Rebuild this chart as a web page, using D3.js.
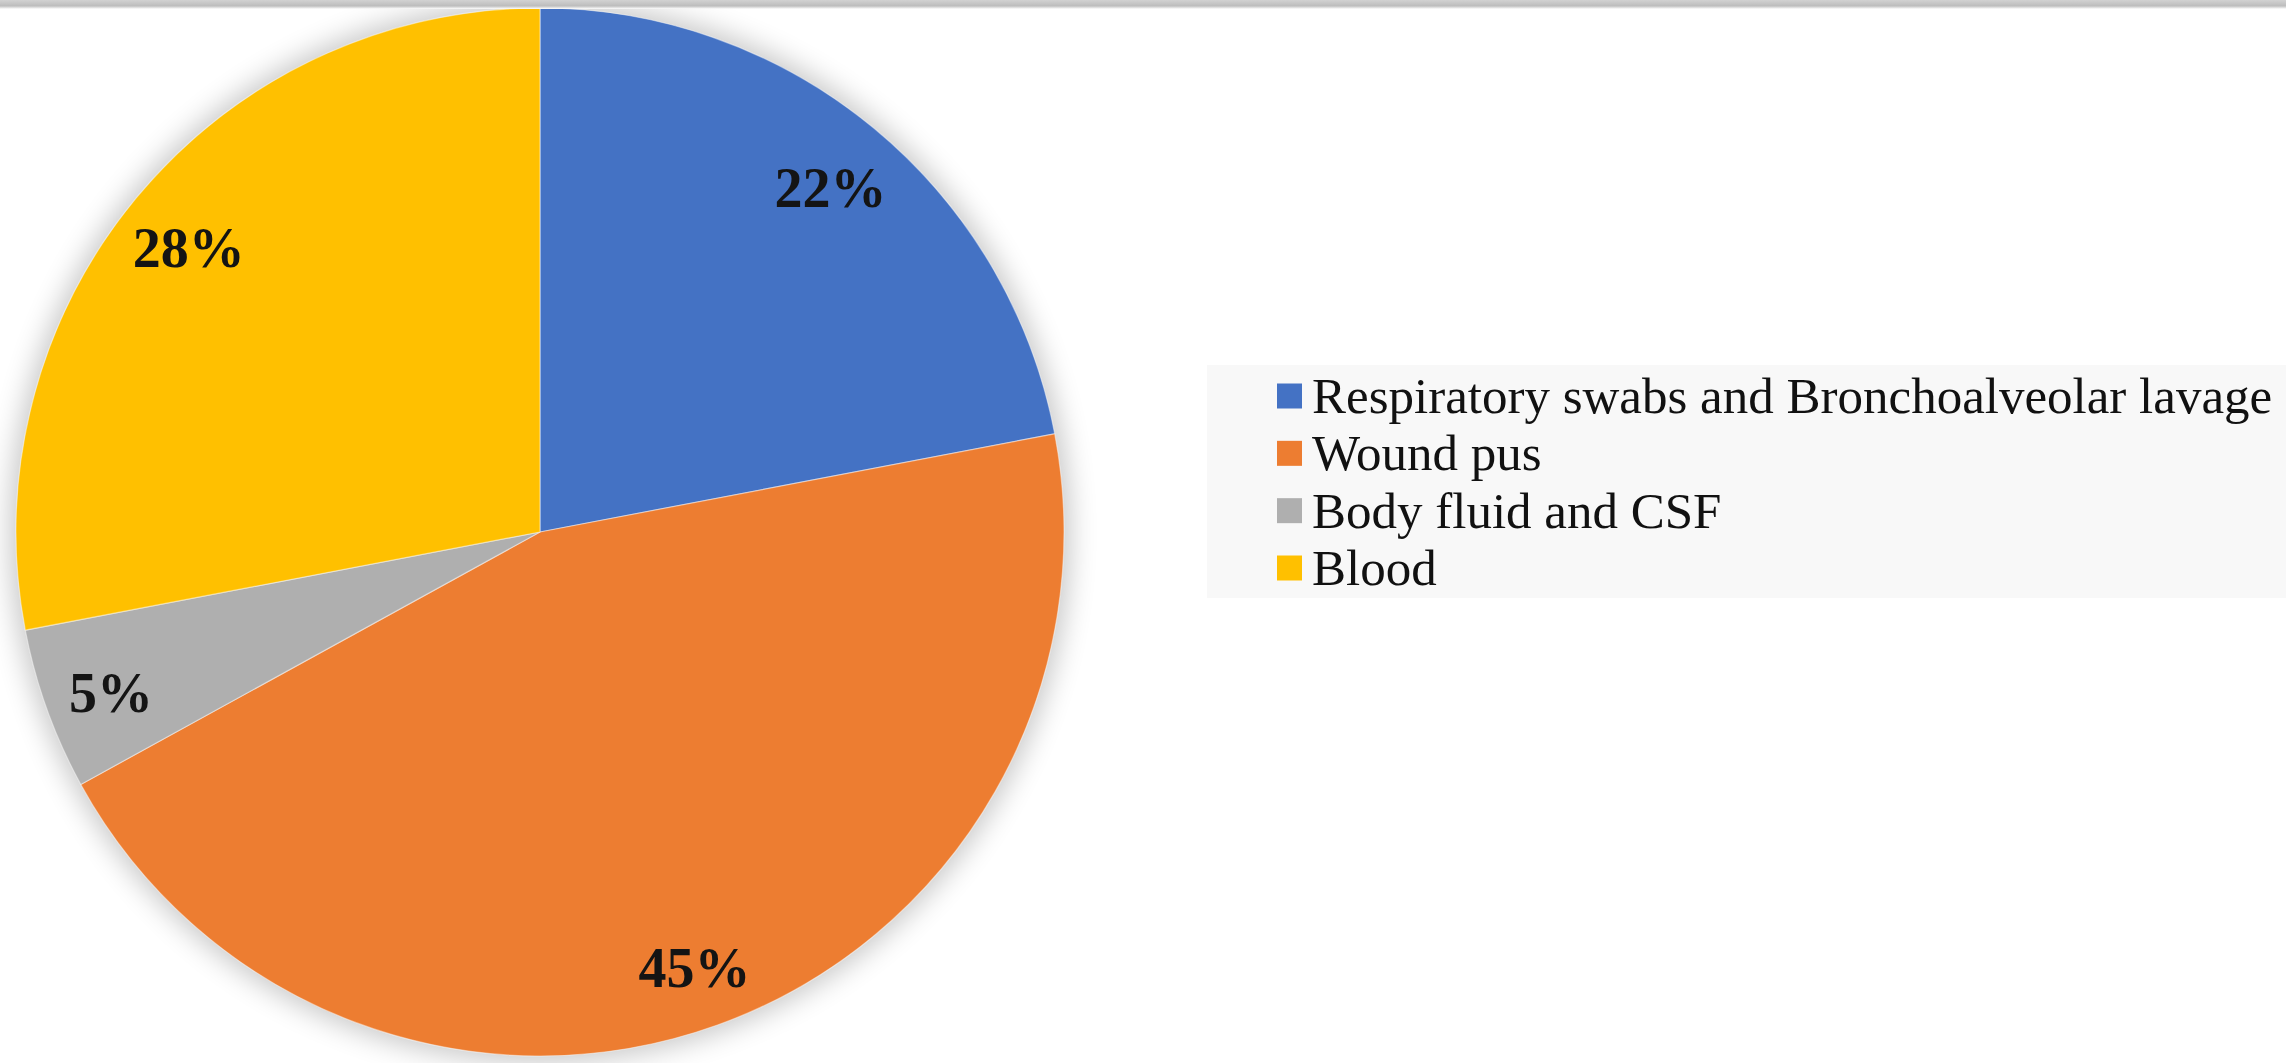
<!DOCTYPE html>
<html>
<head>
<meta charset="utf-8">
<script src="https://cdn.jsdelivr.net/npm/d3@7/dist/d3.min.js"></script>
<style>
  html, body { margin: 0; padding: 0; background: #ffffff; }
  svg { display: block; }
</style>
</head>
<body>
<svg id="chart" width="2286" height="1063"></svg>
<script>
// Specimen types and their share of isolates (%)
const categories = [
  "Respiratory swabs and Bronchoalveolar lavage",
  "Wound pus",
  "Body fluid and CSF",
  "Blood"
];
const values = [22, 45, 5, 28];
const labels = ["22%", "45%", "5%", "28%"];
const colors = ["#4472C4", "#ED7D31", "#AFAFAF", "#FFC000"];

const W = 2286, H = 1063;
const svg = d3.select("#chart");

const defs = svg.append("defs");

// soft shadow around the pie
const shadow = defs.append("filter").attr("id", "pieShadow")
  .attr("x", "-20%").attr("y", "-20%").attr("width", "140%").attr("height", "140%");
shadow.append("feGaussianBlur").attr("stdDeviation", 14);

// grey band along the top edge
const band = defs.append("linearGradient").attr("id", "topBand")
  .attr("x1", 0).attr("y1", 0).attr("x2", 0).attr("y2", 1);
band.append("stop").attr("offset", "0%").attr("stop-color", "#d2d2d2");
band.append("stop").attr("offset", "65%").attr("stop-color", "#bdbdbd");
band.append("stop").attr("offset", "100%").attr("stop-color", "#ffffff");

// pie geometry
const cx = 540, cy = 532, R = 524;

const pie = d3.pie().sort(null).value(d => d)
  .startAngle(0).endAngle(2 * Math.PI);
const arcs = pie(values);
const arc = d3.arc().innerRadius(0).outerRadius(R);
const labelArc = d3.arc().innerRadius(R * 0.87).outerRadius(R * 0.87);

const g = svg.append("g").attr("transform", `translate(${cx},${cy})`);

g.append("circle")
  .attr("r", R + 6)
  .attr("fill", "#000")
  .attr("opacity", 0.22)
  .attr("filter", "url(#pieShadow)");

g.selectAll("path.slice")
  .data(arcs)
  .enter().append("path")
  .attr("class", "slice")
  .attr("d", arc)
  .attr("fill", (d, i) => colors[i])
  .attr("stroke", "#ffffff")
  .attr("stroke-opacity", 0.45)
  .attr("stroke-width", 1.2);

g.selectAll("text.pct")
  .data(arcs)
  .enter().append("text")
  .attr("class", "pct")
  .attr("x", d => labelArc.centroid(d)[0])
  .attr("y", d => labelArc.centroid(d)[1] + 26)
  .attr("text-anchor", "middle")
  .attr("font-family", "'Liberation Serif', 'Times New Roman', serif")
  .attr("font-weight", "bold")
  .attr("font-size", 56)
  .attr("fill", "#141414")
  .text((d, i) => labels[i]);

// top band
svg.append("rect")
  .attr("x", 0).attr("y", 0).attr("width", W).attr("height", 9)
  .attr("fill", "url(#topBand)");

// legend
const legend = svg.append("g");
legend.append("rect")
  .attr("x", 1207).attr("y", 365)
  .attr("width", W - 1207).attr("height", 233)
  .attr("fill", "#f8f8f8");

const rowY = d3.scalePoint()
  .domain(categories)
  .range([396, 568]);

const rows = legend.selectAll("g.row")
  .data(categories)
  .enter().append("g")
  .attr("class", "row")
  .attr("transform", d => `translate(0,${rowY(d)})`);

rows.append("rect")
  .attr("x", 1277).attr("y", -12.5)
  .attr("width", 25).attr("height", 25)
  .attr("fill", (d, i) => colors[i]);

rows.append("text")
  .attr("x", 1312).attr("y", 17)
  .attr("font-family", "'Liberation Serif', 'Times New Roman', serif")
  .attr("font-size", 51)
  .attr("fill", "#111111")
  .text(d => d);
</script>
</body>
</html>
